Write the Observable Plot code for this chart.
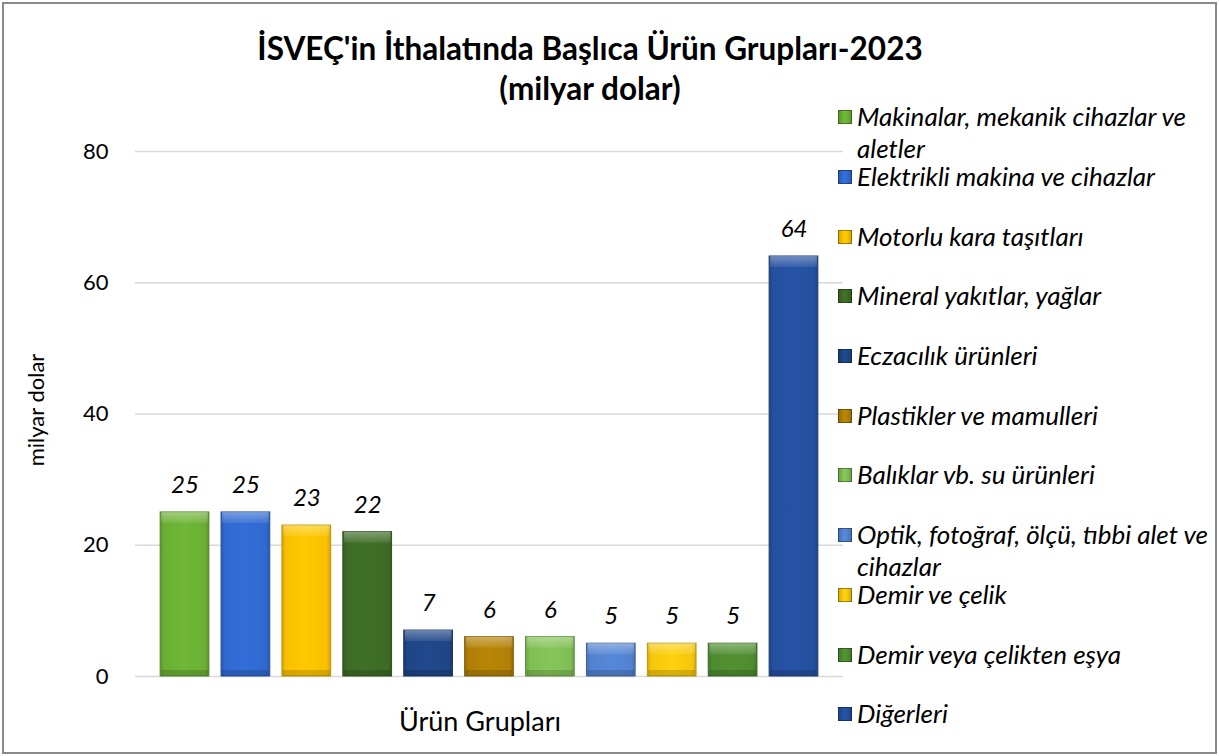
<!DOCTYPE html>
<html><head><meta charset="utf-8">
<script src="https://cdn.jsdelivr.net/npm/d3@7"></script>
<script src="https://cdn.jsdelivr.net/npm/@observablehq/plot@0.6"></script>
<style>
body{margin:0;background:#fff;font-family:Lato,"Open Sans",sans-serif;}
#wrap{position:relative;width:1219px;height:756px;overflow:hidden;background:#fff;}
#border{position:absolute;left:2px;top:2px;width:1211px;height:748px;border:2px solid #8a8a8a;pointer-events:none;}
#title{position:absolute;left:0;top:28px;width:1180px;text-align:center;font-weight:700;font-size:31.5px;line-height:40px;color:#000;}
#chart{position:absolute;left:0;top:0;}
#ylab{position:absolute;left:35px;top:410px;transform:translate(-50%,-50%) rotate(-90deg);font-size:22px;white-space:nowrap;color:#000;}
#xlab{position:absolute;left:480px;top:720px;transform:translate(-50%,-50%);font-size:27px;white-space:nowrap;color:#000;}
.li{position:absolute;left:838px;width:382px;font-style:italic;font-size:26px;line-height:31.5px;color:#000;}
.sw{position:absolute;left:0;top:9px;width:12px;height:12px;border:1px solid rgba(0,0,0,0.35);}
.lt{margin-left:19px;width:362px;}
</style></head>
<body>
<svg width="0" height="0" style="position:absolute"><defs id="gdefs"></defs></svg>
<div id="wrap">
  <div id="title"></div>
  <div id="chart"></div>
  <div id="ylab"></div>
  <div id="xlab"></div>
  <div id="legend"></div>
  <div id="border"></div>
</div>
<script>
const titleLines = ["İSVEÇ'in İthalatında Başlıca Ürün Grupları-2023", "(milyar dolar)"];
const yLabel = "milyar dolar";
const xLabel = "Ürün Grupları";
const categories = [
  "Makinalar, mekanik cihazlar ve aletler",
  "Elektrikli makina ve cihazlar",
  "Motorlu kara taşıtları",
  "Mineral yakıtlar, yağlar",
  "Eczacılık ürünleri",
  "Plastikler ve mamulleri",
  "Balıklar vb. su ürünleri",
  "Optik, fotoğraf, ölçü, tıbbi alet ve cihazlar",
  "Demir ve çelik",
  "Demir veya çelikten eşya",
  "Diğerleri"
];
const values = [25, 25, 23, 22, 7, 6, 6, 5, 5, 5, 64];
const yTicks = [0, 20, 40, 60, 80];

const palette = ["#6aaf34","#3069cf","#f9c100","#3d6b25","#1f4586","#b07f06","#80be54","#5282cf","#f5c70c","#4f8b30","#24509f"];

// gradients for bevelled bars
const defs = d3.select("#gdefs");
palette.forEach((c, i) => {
  const g = defs.append("linearGradient").attr("id", "g" + i).attr("x1", 0).attr("x2", 1).attr("y1", 0).attr("y2", 0);
  const dark = d3.color(c).darker(0.45);
  const light = d3.color(c).brighter(0.12);
  g.append("stop").attr("offset", "0%").attr("stop-color", dark);
  g.append("stop").attr("offset", "8%").attr("stop-color", c);
  g.append("stop").attr("offset", "50%").attr("stop-color", light);
  g.append("stop").attr("offset", "92%").attr("stop-color", c);
  g.append("stop").attr("offset", "100%").attr("stop-color", dark);
});
const hl = defs.append("linearGradient").attr("id", "hl").attr("x1", 0).attr("x2", 0).attr("y1", 0).attr("y2", 1);
hl.append("stop").attr("offset", "0%").attr("stop-color", "white").attr("stop-opacity", 0.35);
hl.append("stop").attr("offset", "100%").attr("stop-color", "white").attr("stop-opacity", 0.08);

const data = categories.map((c, i) => ({cat: c, value: values[i], i}));

const barMarks = data.map((d, i) => Plot.barY([d], {
  x: "cat", y: "value", fill: `url(#g${i})`,
  stroke: d3.color(palette[i]).darker(0.8).formatHex(), strokeWidth: 1
}));

const chart = Plot.plot({
  width: 1219, height: 756,
  marginLeft: 135, marginRight: 376, marginTop: 151, marginBottom: 80,
  style: {fontFamily: "Lato, 'Open Sans', sans-serif", background: "transparent", color: "#000"},
  x: {domain: categories, paddingInner: 0.2, paddingOuter: 0.413, round: false, axis: null},
  y: {domain: [0, 80], axis: null},
  marks: [
    Plot.ruleY(yTicks, {stroke: "#d9d9d9", strokeWidth: 1.3}),
    Plot.axisY({ticks: yTicks, tickSize: 0, tickPadding: 27, fontSize: 22, label: null}),
    ...barMarks,
    Plot.barY(data, {x: "cat", y1: "value", y2: "value", insetBottom: -11, insetLeft: 1, insetRight: 1, fill: "url(#hl)"}),
    Plot.barY(data, {x: "cat", y1: () => 0, y2: () => 0, insetTop: -6, insetLeft: 1, insetRight: 1, fill: "black", fillOpacity: 0.15}),
    Plot.text(data, {x: "cat", y: "value", text: d => String(d.value), dy: -27, fontSize: 24, fontStyle: "italic", fill: "#000"})
  ]
});
document.getElementById("chart").appendChild(chart);

document.getElementById("title").innerHTML = titleLines.join("<br>");
document.getElementById("ylab").textContent = yLabel;
document.getElementById("xlab").textContent = xLabel;

const legend = document.getElementById("legend");
categories.forEach((c, i) => {
  const item = document.createElement("div");
  item.className = "li";
  item.style.top = (117 + i * 59.7 - 15.75) + "px";
  const sw = document.createElement("div");
  sw.className = "sw";
  sw.style.background = `linear-gradient(90deg, ${d3.color(palette[i]).darker(0.4)}, ${palette[i]} 30%, ${d3.color(palette[i]).brighter(0.2)} 50%, ${palette[i]} 70%, ${d3.color(palette[i]).darker(0.4)})`;
  const t = document.createElement("div");
  t.className = "lt";
  t.textContent = c;
  item.appendChild(sw);
  item.appendChild(t);
  legend.appendChild(item);
});
</script>
</body></html>
